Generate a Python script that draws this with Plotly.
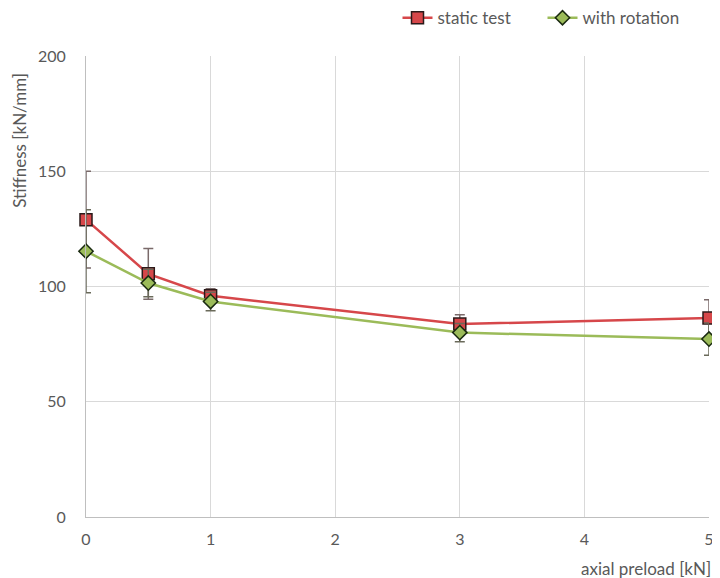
import plotly.graph_objects as go

preload = [0, 0.5, 1, 3, 5]
static_vals = [129, 105.5, 96, 83.7, 86.3]
static_err = [21, 11, 3, 4, 8]
rot_vals = [115.3, 101.5, 93.5, 80, 77.2]
rot_err = [18, 6, 4, 4, 7]

font_fam = "Lato, 'Open Sans', sans-serif"
txt = "#595959"

fig = go.Figure()
fig.add_trace(go.Scatter(
    x=preload, y=static_vals, name="static test", mode="lines+markers",
    line=dict(color="#D6474A", width=2.5),
    marker=dict(symbol="square", size=12, color="#D6474A", line=dict(color="#2b1a1a", width=1.5)),
    error_y=dict(type="data", array=static_err, color="#7a6a6a", thickness=1.5, width=5),
    cliponaxis=False,
))
fig.add_trace(go.Scatter(
    x=preload, y=rot_vals, name="with rotation", mode="lines+markers",
    line=dict(color="#9BBB59", width=2.5),
    marker=dict(symbol="diamond", size=11, color="#9BBB59", line=dict(color="#1a2a10", width=1.5)),
    error_y=dict(type="data", array=rot_err, color="#6a6a5a", thickness=1.5, width=5),
    cliponaxis=False,
))

fig.update_layout(
    width=712, height=570,
    margin=dict(l=78, r=11, t=48, b=61, autoexpand=False),
    paper_bgcolor="white", plot_bgcolor="white",
    font=dict(family=font_fam, color=txt, size=16),
    showlegend=True,
    legend=dict(orientation="h", x=0.5, xanchor="left", y=1.082, yanchor="middle",
                entrywidth=100, entrywidthmode="pixels",
                font=dict(size=17, color=txt), bgcolor="rgba(0,0,0,0)"),
    xaxis=dict(range=[0, 5], tickvals=[0, 1, 2, 3, 4, 5], showgrid=True, gridcolor="#d9d9d9",
               gridwidth=1, zeroline=False, showline=True, linecolor="#bfbfbf", linewidth=1,
               ticks="", ticklabelstandoff=8, tickfont=dict(size=16, color=txt)),
    yaxis=dict(range=[0, 200], tickvals=[0, 50, 100, 150, 200], showgrid=True, gridcolor="#d9d9d9",
               gridwidth=1, zeroline=False, showline=True, linecolor="#bfbfbf", linewidth=1,
               ticks="", ticklabelstandoff=16, tickfont=dict(size=16, color=txt)),
    annotations=[
        dict(text="axial preload [kN]", xref="paper", yref="paper", x=1.007, y=-0.111,
             xanchor="right", yanchor="middle", showarrow=False, font=dict(size=17, color=txt)),
        dict(text="Stiffness [kN/mm]", xref="paper", yref="paper", x=-0.106, y=0.818,
             xanchor="center", yanchor="middle", textangle=-90, showarrow=False,
             font=dict(size=17, color=txt)),
    ],
)

fig.write_html("out.html")
